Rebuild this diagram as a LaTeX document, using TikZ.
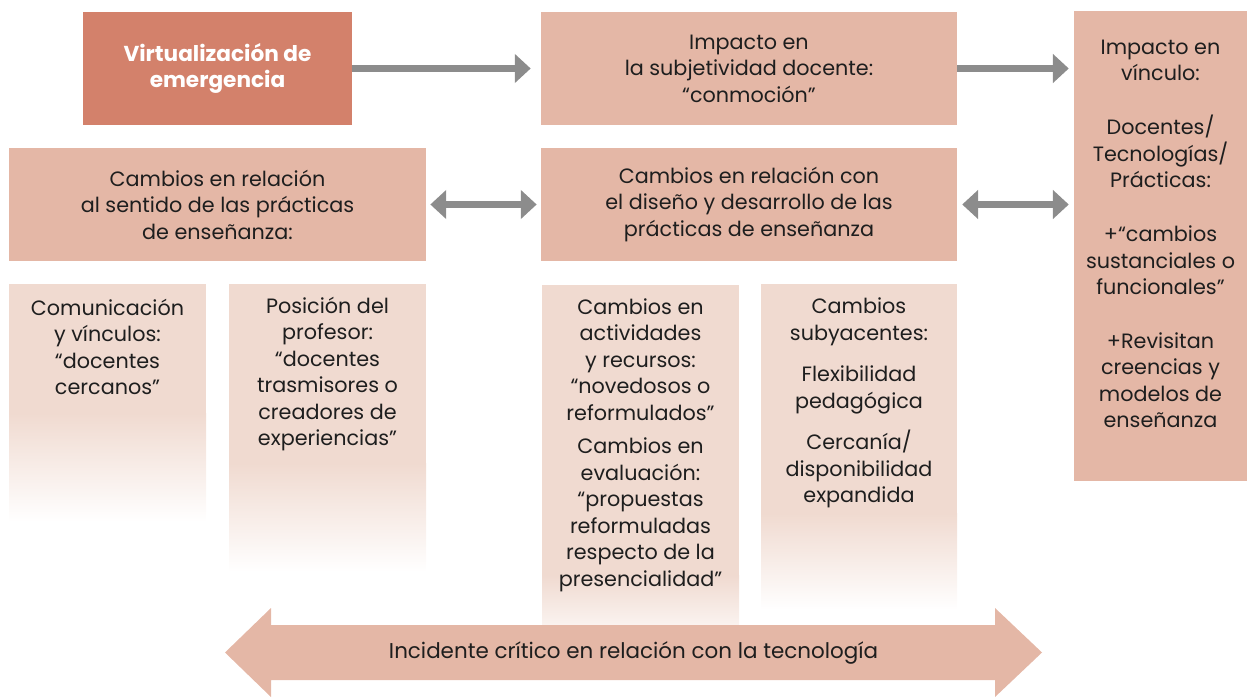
\documentclass[tikz,border=0pt]{standalone}
\usepackage{fontspec}
\setmainfont{Poppins}
\usepackage{tikz}
\usetikzlibrary{arrows.meta}

\definecolor{darkbox}{HTML}{D3816B}
\definecolor{lightbox}{HTML}{E4B7A6}
\definecolor{fadebox}{HTML}{F0DAD0}
\definecolor{arrowgray}{HTML}{8C8C8C}
\definecolor{ink}{HTML}{1E1E1E}

\tikzset{
  box/.style={fill=lightbox, inner sep=0pt, align=center, text=ink,
    font=\fontsize{11.8}{15.1}\selectfont},
  txt/.style={align=center, inner sep=0pt, text=ink,
    font=\fontsize{11.8}{15.1}\selectfont},
  conn/.style={arrowgray, line width=4pt, -{Triangle[length=9pt,width=16pt]}},
  dconn/.style={conn, {Triangle[length=9pt,width=16pt]}-{Triangle[length=9pt,width=16pt]}},
}

\begin{document}
\begin{tikzpicture}[x=0.02cm, y=-0.02cm]
    \useasboundingbox (0,0) rectangle (1247,699);

    % Top row
    \node[box, fill=darkbox, text=white, font=\fontsize{12.3}{15.1}\selectfont\bfseries,
      minimum width=5.38cm, minimum height=2.26cm] (virt) at (217.5,68.5)
      {Virtualización de\\emergencia};
    \node[box, minimum width=8.32cm, minimum height=2.26cm] (subj) at (749,68.5)
      {Impacto en\\la subjetividad docente:\\“conmoción”};

    % Right column
    \node[fill=lightbox, minimum width=3.46cm, minimum height=9.4cm, inner sep=0pt] (vinc) at (1160.5,246) {};
    \node[txt] (vinct) at (1160.5,234)
      {Impacto en\\vínculo:\\[15.5pt]Docentes/\\Tecnologías/\\Prácticas:\\[15.5pt]+“cambios\\sustanciales o\\funcionales”\\[15.5pt]+Revisitan\\creencias y\\modelos de\\enseñanza};

    % Second row
    \node[box, minimum width=8.34cm, minimum height=2.26cm] (sent) at (217.5,204.5)
      {Cambios en relación\\al sentido de las prácticas\\de enseñanza:};
    \node[box, minimum width=8.32cm, minimum height=2.26cm] (dise) at (749,204.5)
      {Cambios en relación con\\el diseño y desarrollo de las\\prácticas de enseñanza};

    % Connectors
    \draw[conn, shorten >=5.7pt] (virt.east) -- (subj.west);
    \draw[conn, shorten >=2.8pt] (subj.east) -- (subj.east -| vinc.west);
    \draw[dconn, shorten <=2.3pt, shorten >=2.3pt] (sent.east) -- (dise.west);
    \draw[dconn, shorten <=2.8pt, shorten >=2.8pt] (dise.east) -- (dise.east -| vinc.west);

    % Fading boxes
    \fill[fadebox] (9,284) rectangle (206,414);
    \shade[top color=fadebox, bottom color=white] (9,413) rectangle (206,522);
    \fill[fadebox] (229,284) rectangle (426,464);
    \shade[top color=fadebox, bottom color=white] (229,463) rectangle (426,572);
    \fill[fadebox] (542,285) rectangle (739,576);
    \shade[top color=fadebox, bottom color=white] (542,575) rectangle (739,650);
    \fill[fadebox] (761,284) rectangle (957,514);
    \shade[top color=fadebox, bottom color=white] (761,513) rectangle (957,610);

    \node[txt] (com) at (107.5,347) {Comunicación\\y vínculos:\\“docentes\\cercanos”};
    \node[txt] (pos) at (327.5,374) {Posición del\\profesor:\\“docentes\\trasmisores o\\creadores de\\experiencias”};
    \node[txt] (act) at (640.5,445) {Cambios en\\actividades\\y recursos:\\“novedosos o\\reformulados”\\[4pt]Cambios en\\evaluación:\\“propuestas\\reformuladas\\respecto de la\\presencialidad”};
    \node[txt] (sub) at (859,403) {Cambios\\subyacentes:\\[8.5pt]Flexibilidad\\pedagógica\\[8.5pt]Cercanía/\\disponibilidad\\expandida};

    % Bottom arrow
    \fill[lightbox] (225,652.5) -- (271,608) -- (271,625) -- (995,625) -- (995,608)
      -- (1042,652.5) -- (995,697) -- (995,680) -- (271,680) -- (271,697) -- cycle;
    \node[txt, font=\fontsize{12.2}{15.1}\selectfont] (inc) at (633.5,653) {Incidente crítico en relación con la tecnología};
\end{tikzpicture}
\end{document}
